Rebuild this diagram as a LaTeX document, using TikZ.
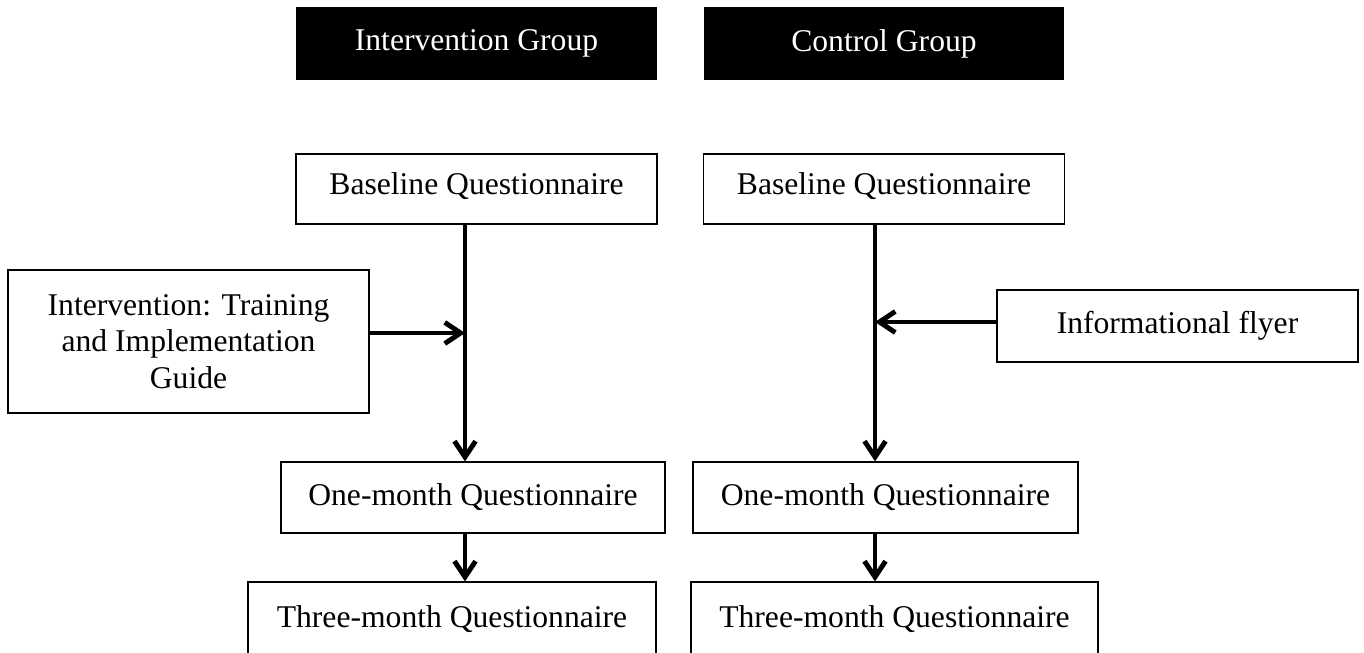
\documentclass[tikz,border=0pt]{standalone}
\usepackage{fontspec}
\setmainfont{Liberation Serif}
\usetikzlibrary{arrows.meta}

\begin{document}
\begin{tikzpicture}[x=0.02cm,y=-0.02cm,
      font=\fontsize{18}{20.8}\selectfont,
      head/.style={fill=black,text=white,minimum width=7.22cm,minimum height=1.46cm,inner sep=0pt},
      box/.style={draw,line width=0.7pt,inner sep=0pt,align=center},
      flow/.style={-{Straight Barb[length=9pt,width=12pt]},line width=2.8pt}]
    \useasboundingbox (0,0) rectangle (1364,652);
    % group headers
    \node[head] (hInt) at (476.5,43.5) {Intervention Group};
    \node[head] (hCtl) at (884,43.5) {Control Group};
    % questionnaires
    \node[box,minimum width=7.22cm,minimum height=1.4cm,text depth=6pt] (baseInt) at (476.5,189) {Baseline Questionnaire};
    \node[box,minimum width=7.22cm,minimum height=1.4cm,text depth=6pt] (baseCtl) at (884,189) {Baseline Questionnaire};
    \node[box,minimum width=7.68cm,minimum height=1.42cm] (oneInt) at (473,497.5) {One-month Questionnaire};
    \node[box,minimum width=7.70cm,minimum height=1.42cm] (oneCtl) at (885.5,497.5) {One-month Questionnaire};
    \node[box,minimum width=8.16cm,minimum height=1.5cm] (threeInt) at (452,619.5) {Three-month Questionnaire};
    \node[box,minimum width=8.14cm,minimum height=1.5cm] (threeCtl) at (894.5,619.5) {Three-month Questionnaire};
    % treatments
    \node[box,minimum width=7.22cm,minimum height=2.86cm] (train) at (188.5,341.5)
      {Intervention: Training\\and Implementation\\Guide};
    \node[box,minimum width=7.22cm,minimum height=1.44cm] (flyer) at (1177.5,326) {Informational flyer};
    \coordinate (jInt) at (465,333);
    \coordinate (jCtl) at (875,322);
    \draw[flow] (baseInt.south -| jInt) -- (oneInt.north -| jInt);
    \draw[flow] (train.east |- jInt) -- (jInt);
    \draw[flow] (oneInt.south -| jInt) -- (threeInt.north -| jInt);
    \draw[flow] (baseCtl.south -| jCtl) -- (oneCtl.north -| jCtl);
    \draw[flow] (flyer.west |- jCtl) -- (jCtl);
    \draw[flow] (oneCtl.south -| jCtl) -- (threeCtl.north -| jCtl);
  \end{tikzpicture}
\end{document}
